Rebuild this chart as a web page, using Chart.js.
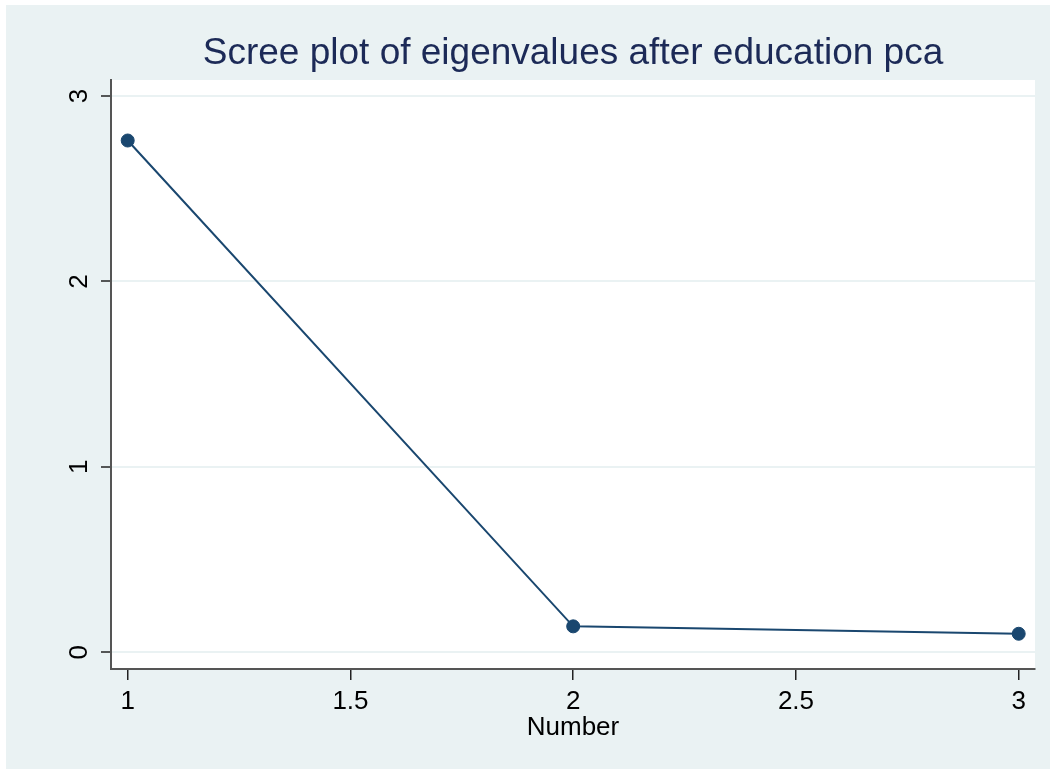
<!DOCTYPE html>
<html>
<head>
<meta charset="utf-8">
<script src="https://cdn.jsdelivr.net/npm/chart.js@4"></script>
<style>
  html, body { margin: 0; padding: 0; background: #ffffff; }
  #wrap { width: 1050px; height: 769px; }
  canvas { display: block; }
</style>
</head>
<body>
<div id="wrap"><canvas id="scree" width="1050" height="769"></canvas></div>
<script>
// Scree plot data
const components = [1, 2, 3];
const eigenvalues = [2.76, 0.14, 0.10];
const xTicks = [1, 1.5, 2, 2.5, 3];
const yTicks = [0, 1, 2, 3];

const FONT = "'Liberation Sans', Arial, sans-serif";
const NAVY = "#1a476f";
const BG = "#eaf2f3";

// Stata-like backgrounds: light outer region, white plot region
const backdrop = {
  id: "backdrop",
  beforeDraw(chart) {
    const { ctx, width, height, chartArea } = chart;
    ctx.save();
    ctx.fillStyle = "#ffffff";
    ctx.fillRect(0, 0, width, height);
    ctx.fillStyle = BG;
    ctx.fillRect(6, 5, width - 6, height - 5);
    ctx.fillStyle = "#ffffff";
    ctx.fillRect(chartArea.left, chartArea.top, chartArea.right - chartArea.left, chartArea.bottom - chartArea.top);
    ctx.restore();
  },
};

const DATA = {
  datasets: [
    {
      label: "Eigenvalues",
      data: components.map((c, i) => ({ x: c, y: eigenvalues[i] })),
      borderColor: NAVY,
      backgroundColor: NAVY,
      borderWidth: 2,
      pointRadius: 6.5,
      pointBorderWidth: 1,
      pointBackgroundColor: NAVY,
      pointBorderColor: NAVY,
      tension: 0,
    },
  ],
};

const CONFIG = {
  type: "line",
  data: DATA,
  options: {
    responsive: false,
    animation: false,
    layout: { padding: { left: 0, right: 15, top: 0, bottom: 0 } },
    plugins: {
      legend: { display: false },
      tooltip: { enabled: false },
      title: {
        display: true,
        fullSize: false,
        text: "Scree plot of eigenvalues after education pca",
        color: "#1c2a57",
        font: { family: FONT, size: 37, weight: "normal" },
        padding: { top: 32, bottom: 3.6 },
      },
    },
    scales: {
      x: {
        type: "linear",
        min: 0.9625,
        max: 3.0366,
        afterBuildTicks: (s) => { s.ticks = xTicks.map((v) => ({ value: v })); },
        afterFit: (s) => { s.height = 100; },
        border: { display: true, color: "#555555", width: 2 },
        grid: {
          display: true,
          drawOnChartArea: false,
          drawTicks: true,
          tickLength: 11,
          tickColor: "#222222",
          lineWidth: 1.5,
        },
        ticks: {
          color: "#000000",
          font: { family: FONT, size: 26 },
          padding: 6,
          maxRotation: 0,
          autoSkip: false,
          callback: (v) => String(v),
        },
        title: {
          display: true,
          text: "Number",
          color: "#000000",
          font: { family: FONT, size: 26 },
          padding: { top: 0, bottom: 26 },
        },
      },
      y: {
        type: "linear",
        min: -0.09,
        max: 3.0863,
        afterBuildTicks: (s) => { s.ticks = yTicks.map((v) => ({ value: v })); },
        afterFit: (s) => { s.width = 111; },
        border: { display: true, color: "#555555", width: 2 },
        grid: {
          color: BG,
          lineWidth: 2,
          drawTicks: true,
          tickLength: 10,
          tickColor: "#222222",
          tickWidth: 1.5,
        },
        ticks: {
          color: "#000000",
          font: { family: FONT, size: 26 },
          padding: 13.5,
          minRotation: 90,
          maxRotation: 90,
          crossAlign: "center",
          callback: (v) => String(v),
        },
      },
    },
  },
  plugins: [backdrop],
};

new Chart(document.getElementById("scree"), CONFIG);
</script>
</body>
</html>
